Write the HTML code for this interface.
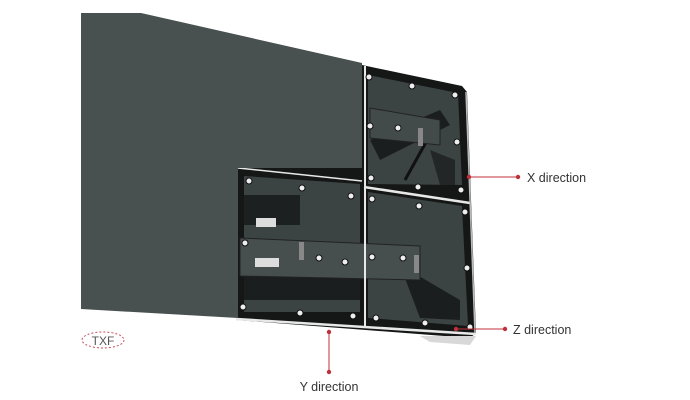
<!DOCTYPE html>
<html><head><meta charset="utf-8"><style>
html,body{margin:0;padding:0;background:#fff;}
svg{display:block}
text{font-family:"Liberation Sans",sans-serif;}
</style></head><body>
<svg width="690" height="400" viewBox="0 0 690 400" xmlns="http://www.w3.org/2000/svg">
<!-- back of cabinet (black frame) -->
<polygon points="362,65 462,86 467,92 476,333 470,338 236,320 236,168 362,168" fill="#151717"/>
<!-- module interiors -->
<polygon points="368,75 458,93 462,185 368,184" fill="#3c4343"/>
<polygon points="368,192 462,206 468,326 368,318" fill="#3c4343"/>
<polygon points="244,176 360,184 360,312 244,312" fill="#3c4343"/>
<!-- dark structural details -->
<polygon points="370,140 440,110 450,125 380,160" fill="#1b1e1e"/>
<polygon points="244,195 300,195 300,225 244,225" fill="#1d2020"/>
<polygon points="244,265 360,268 360,300 244,300" fill="#1b1e1e"/>
<polygon points="400,265 460,300 460,320 420,318" fill="#1b1e1e"/>
<polygon points="430,150 455,160 455,185 440,185" fill="#222626"/>
<line x1="430" y1="135" x2="405" y2="180" stroke="#111" stroke-width="3"/>
<!-- PCB bar -->
<polygon points="240,238 420,246 420,280 240,276" fill="#474e4e" stroke="#222" stroke-width="1"/>
<polygon points="370,108 440,120 440,145 370,138" fill="#434a4a" stroke="#222" stroke-width="1"/>
<rect x="256" y="218" width="20" height="9" fill="#ddd"/>
<rect x="255" y="258" width="24" height="9" fill="#ddd"/>
<rect x="299" y="242" width="5" height="18" fill="#888"/>
<rect x="418" y="128" width="5" height="18" fill="#888"/>
<rect x="414" y="255" width="5" height="18" fill="#888"/>
<!-- white dividers -->
<line x1="365" y1="66" x2="365" y2="327" stroke="#e8e8e8" stroke-width="2"/>
<line x1="364" y1="187" x2="470" y2="203" stroke="#e8e8e8" stroke-width="2.5"/>
<line x1="238" y1="168" x2="362" y2="181" stroke="#e8e8e8" stroke-width="1.5"/>
<line x1="237" y1="168" x2="237" y2="319" stroke="#e8e8e8" stroke-width="2"/>
<line x1="236" y1="319" x2="476" y2="334" stroke="#e8e8e8" stroke-width="2.5"/>
<line x1="466" y1="92" x2="475" y2="333" stroke="#bbb" stroke-width="1.5"/>
<polygon points="420,336 476,336 470,345 430,342" fill="#d8d8d8"/>
<!-- screws -->
<g fill="#eee" stroke="#111" stroke-width="1">
<circle cx="369" cy="77" r="3"/><circle cx="412" cy="86" r="3"/><circle cx="455" cy="95" r="3"/>
<circle cx="370" cy="126" r="3"/><circle cx="398" cy="128" r="3"/><circle cx="457" cy="142" r="3"/>
<circle cx="371" cy="178" r="3"/><circle cx="418" cy="187" r="3"/><circle cx="461" cy="190" r="3"/>
<circle cx="249" cy="181" r="3"/><circle cx="302" cy="188" r="3"/><circle cx="351" cy="196" r="3"/>
<circle cx="372" cy="199" r="3"/><circle cx="419" cy="206" r="3"/><circle cx="465" cy="212" r="3"/>
<circle cx="245" cy="243" r="3"/><circle cx="319" cy="258" r="3"/><circle cx="345" cy="262" r="3"/>
<circle cx="372" cy="257" r="3"/><circle cx="403" cy="258" r="3"/><circle cx="467" cy="268" r="3"/>
<circle cx="243" cy="307" r="3"/><circle cx="300" cy="313" r="3"/><circle cx="353" cy="316" r="3"/>
<circle cx="376" cy="318" r="3"/><circle cx="425" cy="323" r="3"/><circle cx="470" cy="327" r="3"/>
</g>
<!-- front LED panel -->
<polygon points="81,13 141,13 362,63 362,168 238,168 238,318 81,309" fill="#485050"/>
<!-- TXF label -->
<ellipse cx="103" cy="340" rx="21" ry="8" fill="none" stroke="#c8505a" stroke-width="1" stroke-dasharray="2,2"/>
<text x="103" y="345" font-size="12" fill="#555" text-anchor="middle">TXF</text>
<!-- X direction -->
<line x1="469" y1="177" x2="518" y2="177" stroke="#c0303a" stroke-width="1"/>
<circle cx="469" cy="177" r="2.2" fill="#c0303a"/><circle cx="518" cy="177" r="2.2" fill="#c0303a"/>
<text x="527" y="182" font-size="12.5" fill="#333">X direction</text>
<!-- Z direction -->
<line x1="456" y1="329" x2="505" y2="329" stroke="#c0303a" stroke-width="1"/>
<circle cx="456" cy="329" r="2.2" fill="#c0303a"/><circle cx="505" cy="329" r="2.2" fill="#c0303a"/>
<text x="513" y="334" font-size="12.5" fill="#333">Z direction</text>
<!-- Y direction -->
<line x1="329" y1="332" x2="329" y2="372" stroke="#c0303a" stroke-width="1"/>
<circle cx="329" cy="332" r="2.2" fill="#c0303a"/><circle cx="329" cy="372" r="2.2" fill="#c0303a"/>
<text x="329" y="391" font-size="12.5" fill="#333" text-anchor="middle">Y direction</text>
</svg>
</body></html>
